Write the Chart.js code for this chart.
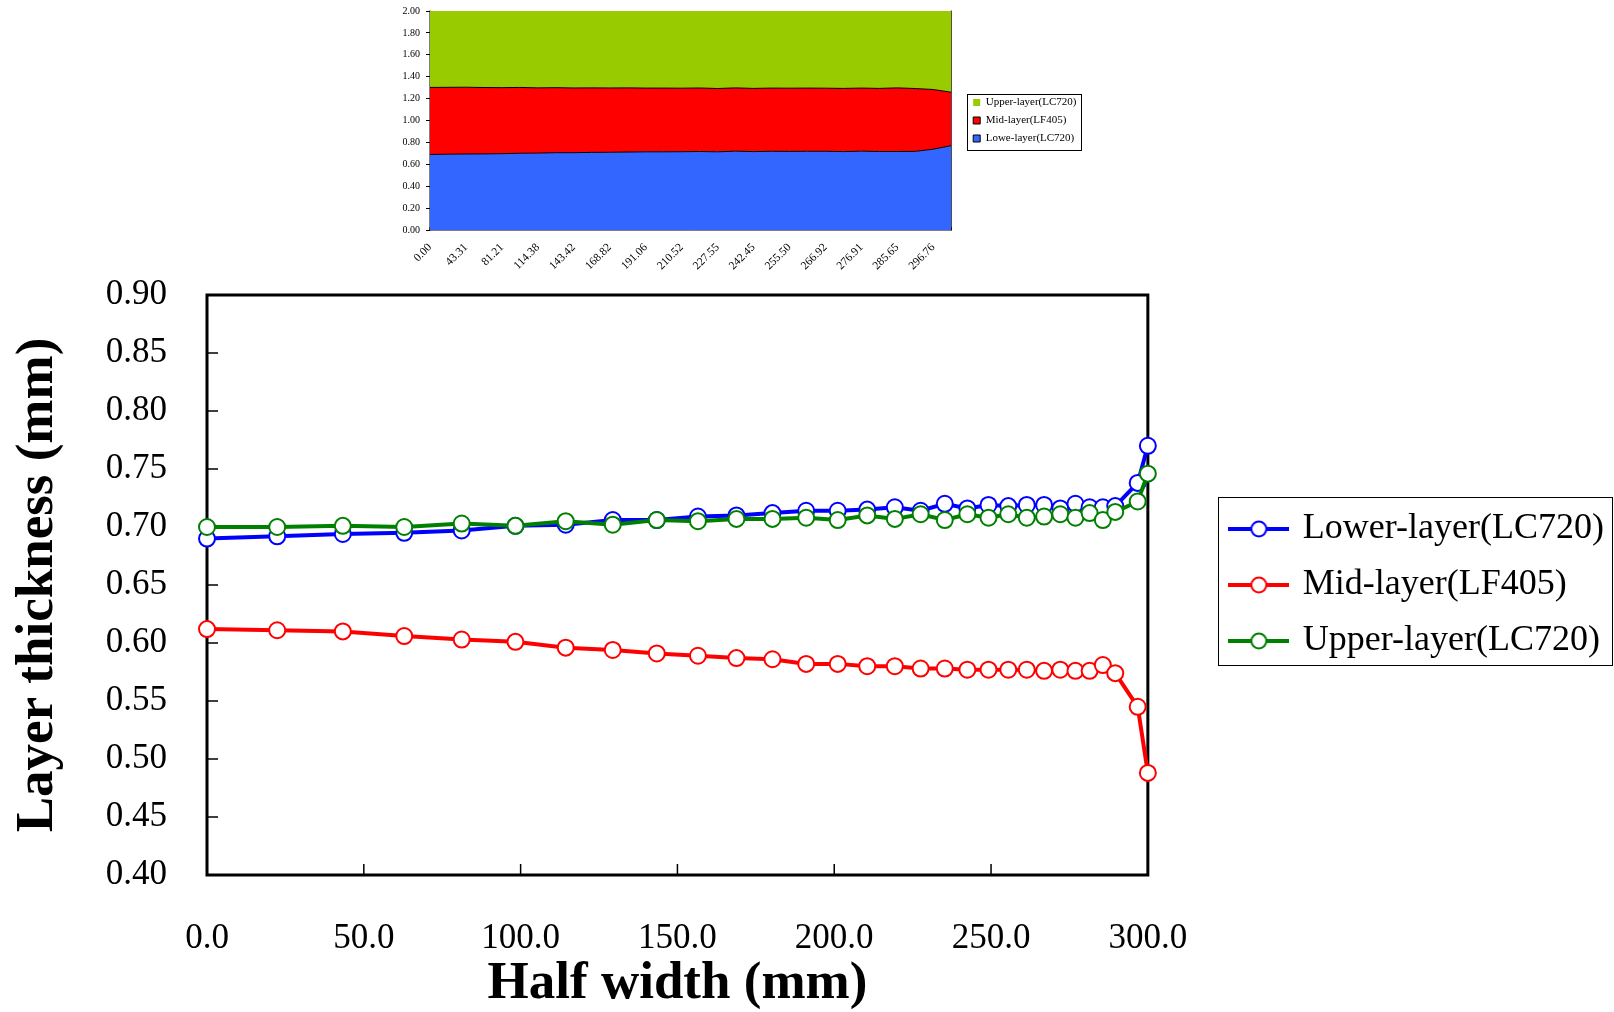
<!DOCTYPE html>
<html>
<head>
<meta charset="utf-8">
<title>Layer thickness across the half width</title>
<script src="https://cdn.jsdelivr.net/npm/chart.js@4.4.1/dist/chart.umd.min.js"></script>
<style>
  html, body { margin: 0; padding: 0; background: #fff; }
  body { width: 1614px; height: 1012px; position: relative; overflow: hidden; }
  #stackWrap { position: absolute; left: 370px; top: 0; width: 720px; height: 275px; }
  #lineWrap { position: absolute; left: 0; top: 275px; width: 1614px; height: 737px; }
</style>
</head>
<body>
<div id="stackWrap"><canvas id="stackChart"></canvas></div>
<div id="lineWrap"><canvas id="lineChart"></canvas></div>
<script>
// Measurement positions across the half width (mm)
const halfWidthMm = [0.00, 22.38, 43.31, 62.89, 81.21, 98.35, 114.38, 129.38, 143.42, 156.54,
  168.82, 180.31, 191.06, 201.11, 210.52, 219.32, 227.55, 235.25, 242.45, 249.19,
  255.50, 261.40, 266.92, 272.08, 276.91, 281.43, 285.65, 289.60, 296.76, 300.00];

// Layer thicknesses (mm) at each position
const lowerLayerMm = [0.690, 0.692, 0.694, 0.695, 0.697, 0.701, 0.702, 0.706, 0.706, 0.709,
  0.710, 0.712, 0.714, 0.714, 0.715, 0.717, 0.714, 0.720, 0.716, 0.719,
  0.718, 0.719, 0.719, 0.716, 0.720, 0.717, 0.717, 0.718, 0.738, 0.770];
const midLayerMm = [0.612, 0.611, 0.610, 0.606, 0.603, 0.601, 0.596, 0.594, 0.591, 0.589,
  0.587, 0.586, 0.582, 0.582, 0.580, 0.580, 0.578, 0.578, 0.577, 0.577,
  0.577, 0.577, 0.576, 0.577, 0.576, 0.576, 0.581, 0.574, 0.545, 0.488];
const upperLayerMm = [0.700, 0.700, 0.701, 0.700, 0.703, 0.701, 0.705, 0.702, 0.706, 0.705,
  0.707, 0.707, 0.708, 0.706, 0.710, 0.707, 0.711, 0.706, 0.711, 0.708,
  0.711, 0.708, 0.709, 0.711, 0.708, 0.712, 0.706, 0.713, 0.722, 0.746];

const lineSeriesNames = ['Lower-layer(LC720)', 'Mid-layer(LF405)', 'Upper-layer(LC720)'];
const areaSeriesNames = ['Lowe-layer(LC720)', 'Mid-layer(LF405)', 'Upper-layer(LC720)'];

// Axis tick values
const thicknessTicks = [0.40, 0.45, 0.50, 0.55, 0.60, 0.65, 0.70, 0.75, 0.80, 0.85, 0.90];
const widthTicks = [0, 50, 100, 150, 200, 250, 300];
const stackTicks = [0.0, 0.2, 0.4, 0.6, 0.8, 1.0, 1.2, 1.4, 1.6, 1.8, 2.0];

Chart.defaults.font.family = "'Liberation Serif', 'Times New Roman', serif";
Chart.defaults.color = '#000';

// Frame around the plot area plus tick marks pointing into it
const plotFrame = {
  id: 'plotFrame',
  beforeDatasetsDraw(chart, args, o) {
    const { ctx, chartArea: a } = chart;
    ctx.save();
    ctx.strokeStyle = '#000';
    ctx.lineWidth = o.tickWidth;
    ctx.beginPath();
    if (o.xInside) {
      const xs = chart.scales.x;
      xs.ticks.forEach((t, i) => {
        const px = xs.getPixelForTick(i);
        ctx.moveTo(px, a.bottom);
        ctx.lineTo(px, a.bottom - o.tickLen);
      });
    }
    if (o.yInside) {
      const ys = chart.scales.y;
      ys.ticks.forEach((t, i) => {
        const py = ys.getPixelForTick(i);
        ctx.moveTo(a.left, py);
        ctx.lineTo(a.left + o.tickLen, py);
      });
    }
    ctx.stroke();
    ctx.lineWidth = o.frameWidth;
    ctx.lineCap = 'square';
    ctx.beginPath();
    if (o.sides.includes('left')) { ctx.moveTo(a.left, a.top); ctx.lineTo(a.left, a.bottom); }
    if (o.sides.includes('bottom')) { ctx.moveTo(a.left, a.bottom); ctx.lineTo(a.right, a.bottom); }
    if (o.sides.includes('right')) { ctx.moveTo(a.right, a.top); ctx.lineTo(a.right, a.bottom); }
    if (o.sides.includes('top')) { ctx.moveTo(a.left, a.top); ctx.lineTo(a.right, a.top); }
    ctx.stroke();
    ctx.restore();
  }
};

// Thin border drawn around the legend entries
const legendFrame = {
  id: 'legendFrame',
  afterDraw(chart, args, o) {
    const boxes = chart.legend && chart.legend.legendHitBoxes;
    if (!boxes || !boxes.length) return;
    let l = Infinity, r = -Infinity, t = Infinity, b = -Infinity;
    boxes.forEach(h => {
      l = Math.min(l, h.left); r = Math.max(r, h.left + h.width);
      t = Math.min(t, h.top); b = Math.max(b, h.top + h.height);
    });
    l = Math.round(l - o.left) + 0.5;
    r = Math.min(Math.round(r + o.right) + 0.5, chart.width - 0.5);
    t = Math.round(t - o.top) + 0.5;
    b = Math.round(b + o.bottom) + 0.5;
    const ctx = chart.ctx;
    ctx.save();
    ctx.strokeStyle = '#000';
    ctx.lineWidth = 1;
    ctx.strokeRect(l, t, r - l, b - t);
    ctx.restore();
  }
};

// Legend sample: a short line with an open circle marker
function legendSample(color) {
  const c = document.createElement('canvas');
  c.width = 61; c.height = 22;
  const g = c.getContext('2d');
  g.strokeStyle = color;
  g.lineWidth = 4;
  g.beginPath(); g.moveTo(0, 11); g.lineTo(61, 11); g.stroke();
  g.fillStyle = '#fff';
  g.lineWidth = 2;
  g.beginPath(); g.arc(30.5, 11, 7.5, 0, Math.PI * 2); g.fill(); g.stroke();
  return c;
}

/* ---------- stacked area chart of the three layers ---------- */
const stackFont = { size: 10, lineHeight: 1 };
new Chart(document.getElementById('stackChart'), {
  type: 'line',
  data: {
    labels: halfWidthMm.map(v => v.toFixed(2)),
    datasets: [
      { label: areaSeriesNames[0], data: lowerLayerMm, backgroundColor: '#3366FF', borderColor: '#000', fill: 'origin' },
      { label: areaSeriesNames[1], data: midLayerMm, backgroundColor: '#FF0000', borderColor: '#000', fill: '-1' },
      { label: areaSeriesNames[2], data: upperLayerMm, backgroundColor: '#99CC00', borderColor: 'rgba(0,0,0,0)', fill: '-1' }
    ].map(ds => Object.assign(ds, {
      borderWidth: 1, pointRadius: 0, pointHoverRadius: 0, tension: 0, clip: 0
    }))
  },
  options: {
    responsive: true,
    maintainAspectRatio: false,
    devicePixelRatio: 1,
    animation: false,
    events: [],
    layout: { padding: { top: 11, right: 3.5, left: 0, bottom: 0 } },
    scales: {
      x: {
        type: 'category',
        grid: { display: false, drawTicks: true, tickLength: 14 },
        border: { display: false },
        ticks: {
          autoSkip: false, minRotation: 45, maxRotation: 45, padding: 0, font: { size: 11.5, lineHeight: 0.4 },
          callback: function (value, index) { return index % 2 === 0 ? this.getLabelForValue(value) : ''; }
        },
        afterFit: s => { s.height = 45; }
      },
      y: {
        stacked: true,
        min: 0, max: 2,
        afterBuildTicks: s => { s.ticks = stackTicks.map(v => ({ value: v })); },
        grid: { display: true, drawOnChartArea: false, drawTicks: true, tickLength: 4, color: '#000', lineWidth: 1 },
        border: { display: false },
        ticks: { padding: 6, font: stackFont, callback: v => Number(v).toFixed(2) },
        afterFit: s => { s.width = 60; }
      },
      y2: {
        position: 'right',
        display: true,
        grid: { display: false, drawTicks: false },
        border: { display: false },
        ticks: { display: false },
        afterFit: s => { s.width = 15; }
      }
    },
    plugins: {
      legend: {
        position: 'right',
        fullSize: false,
        reverse: true,
        maxWidth: 200,
        labels: { boxWidth: 7, boxHeight: 7, padding: 7, font: { size: 11 }, color: '#000' }
      },
      tooltip: { enabled: false },
      plotFrame: { sides: ['left', 'bottom', 'right'], frameWidth: 1, tickWidth: 1, tickLen: 3, xInside: true, yInside: false },
      legendFrame: { left: 6, right: 4, top: 3, bottom: 6 }
    }
  },
  plugins: [plotFrame, legendFrame]
});

/* ---------- thickness profile line chart ---------- */
const tickFont = { size: 35, lineHeight: 1 };
const titleFont = { size: 53, weight: 'bold', lineHeight: 1 };
const lineColors = ['#0000FF', '#FF0000', '#008000'];
const lineSeries = [lowerLayerMm, midLayerMm, upperLayerMm];
const drawOrder = [2, 1, 0];

new Chart(document.getElementById('lineChart'), {
  type: 'line',
  data: {
    datasets: lineSeries.map((vals, k) => ({
      label: lineSeriesNames[k],
      data: halfWidthMm.map((x, i) => ({ x: x, y: vals[i] })),
      borderColor: lineColors[k],
      borderWidth: 4,
      pointRadius: 8,
      pointBorderWidth: 2,
      pointBorderColor: lineColors[k],
      pointBackgroundColor: '#fff',
      pointHoverRadius: 8,
      tension: 0,
      fill: false,
      clip: false,
      order: drawOrder[k]
    }))
  },
  options: {
    responsive: true,
    maintainAspectRatio: false,
    devicePixelRatio: 1,
    animation: false,
    events: [],
    layout: { padding: { top: 20, right: 0, left: 0, bottom: 0 } },
    scales: {
      x: {
        type: 'linear',
        min: 0, max: 300,
        afterBuildTicks: s => { s.ticks = widthTicks.map(v => ({ value: v })); },
        grid: { display: false, drawTicks: true, tickLength: 46 },
        border: { display: false },
        ticks: { padding: 0, font: tickFont, callback: v => Number(v).toFixed(1) },
        title: { display: true, text: 'Half width (mm)', font: titleFont, padding: { top: 0, bottom: 1 } },
        afterFit: s => { s.height = 137; }
      },
      y: {
        type: 'linear',
        min: 0.4, max: 0.9,
        afterBuildTicks: s => { s.ticks = thicknessTicks.map(v => ({ value: v })); },
        grid: { display: false, drawTicks: true, tickLength: 40 },
        border: { display: false },
        ticks: { padding: 0, font: tickFont, callback: v => Number(v).toFixed(2) },
        title: { display: true, text: 'Layer thickness (mm)', font: titleFont, padding: { top: 12, bottom: 0 } },
        afterFit: s => { s.width = 207; }
      },
      y2: {
        position: 'right',
        display: true,
        grid: { display: false, drawTicks: false },
        border: { display: false },
        ticks: { display: false },
        afterFit: s => { s.width = 65; }
      }
    },
    plugins: {
      legend: {
        position: 'right',
        fullSize: false,
        maxWidth: 500,
        labels: {
          usePointStyle: true,
          pointStyleWidth: 52,
          padding: 20,
          font: { size: 36 },
          color: '#000',
          generateLabels: chart => chart.data.datasets.map((ds, i) => ({
            text: ds.label,
            pointStyle: legendSample(ds.borderColor),
            fillStyle: '#fff',
            strokeStyle: ds.borderColor,
            lineWidth: 0,
            fontColor: '#000',
            hidden: false,
            datasetIndex: i
          }))
        }
      },
      tooltip: { enabled: false },
      plotFrame: { sides: ['left', 'bottom', 'right', 'top'], frameWidth: 3, tickWidth: 1.5, tickLen: 11, xInside: true, yInside: true },
      legendFrame: { left: 14.5, right: 8, top: 14, bottom: 6 }
    }
  },
  plugins: [plotFrame, legendFrame]
});
</script>
</body>
</html>
